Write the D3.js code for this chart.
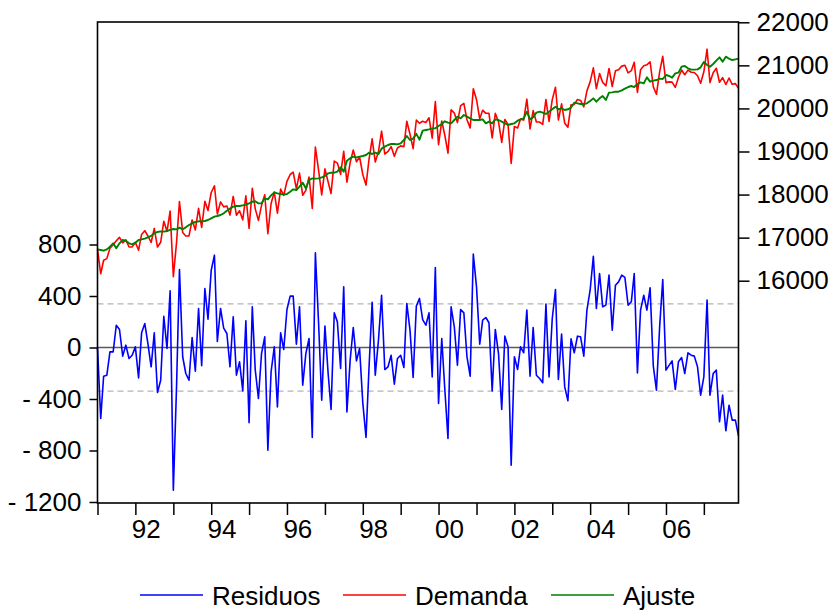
<!DOCTYPE html>
<html>
<head>
<meta charset="utf-8">
<script src="https://cdn.jsdelivr.net/npm/d3@7"></script>
<style>
  html, body { margin: 0; padding: 0; background: #fff; }
  svg { display: block; }
  text { font-family: "Liberation Sans", Arial, sans-serif; fill: #000; white-space: pre; }
</style>
</head>
<body>
<svg id="chart" width="837" height="611"></svg>
<script>
// ---- Data (monthly, 1991M01 - 2007M12) ----
const startYear = 1991;
const startMonth = 0;

const residuos = [
  0, -551, -223, -215, -34, -34, 173, 140, -67, 18, -85, -60, 5, -236, 114, 186, 31, -150, 114, -350,
  -254, 243, -8, 440, -1108, -300, 606, -72, -202, -254, 78, -184, 303, -142, 458, 220, 600, 717, 47, 303,
  150, 109, -150, 238, -215, -111, -337, 207, -585, 316, -171, -396, -47, 83, -797, -189, 5, -461, 114, -16,
  295, 399, 399, 26, 316, -293, -47, 70, -699, 735, 186, -409, 166, -202, -482, 269, 199, -163, 471, -500,
  -100, 155, -104, -8, -430, -699, -173, 352, -215, 57, 406, -171, -150, -60, -285, -85, -60, -155, 342, 135,
  -233, 321, 381, 217, 173, 269, -228, 621, -435, 70, -318, -707, 316, 160, -137, 295, 269, -72, -223, 725,
  471, 26, 212, 233, 192, -337, 140, -47, -482, 88, 5, -914, -72, -171, 5, -41, 290, -223, 155, -215,
  -241, -274, 337, -228, 225, 450, -249, 104, -306, -414, 67, -41, 88, 83, -67, 290, 445, 709, 303, 575,
  316, 329, 562, 135, 484, 510, 562, 544, 329, 355, 575, -197, 290, 406, 290, 463, -145, -331, 160, 528,
  -176, -137, -104, -326, -111, -78, -202, -41, -60, -67, -150, -370, -228, 368, -370, -202, -176, -577, -370, -647,
  -448, -564, -564, -686
];

const demanda = [
  16728, 16162, 16474, 16513, 16756, 16834, 16925, 17008, 16878, 16948, 16783, 16785, 16888, 16709, 17075, 17162, 17038, 16888, 17214, 16781,
  16892, 17382, 17146, 17618, 16093, 16893, 17838, 17121, 17037, 17040, 17410, 17179, 17682, 17237, 17844, 17630, 18048, 18204, 17549, 17829,
  17714, 17735, 17523, 17957, 17520, 17624, 17413, 17973, 17212, 18148, 17674, 17400, 17749, 17996, 17092, 17793, 18057, 17568, 18127, 17982,
  18308, 18466, 18520, 18132, 18499, 17983, 18098, 18408, 17678, 19104, 18563, 17991, 18597, 18291, 18026, 18777, 18731, 18469, 19003, 18287,
  18741, 19035, 18761, 18872, 18466, 18220, 18800, 19294, 18758, 18999, 19472, 18941, 19001, 19114, 18889, 19081, 19130, 19112, 19702, 19402,
  19067, 19731, 19656, 19701, 19673, 19784, 19310, 20159, 19158, 19709, 19383, 18963, 19970, 19892, 19672, 20066, 20117, 19737, 19548, 20457,
  20203, 19758, 19959, 19887, 19885, 19317, 19887, 19685, 19211, 19742, 19621, 18725, 19582, 19545, 19752, 19730, 20215, 19524, 19949, 19687,
  19684, 19628, 20208, 19697, 20205, 20491, 19731, 20107, 19658, 19566, 20087, 20093, 20206, 20186, 20036, 20408, 20617, 20943, 20460, 20809,
  20604, 20525, 20928, 20509, 20873, 20899, 20982, 21003, 20826, 20876, 21072, 20370, 20896, 20989, 21012, 21084, 20500, 20329, 20851, 21211,
  20600, 20616, 20610, 20489, 20719, 20892, 20783, 20890, 20840, 20833, 20758, 20584, 20850, 21376, 20600, 20830, 20933, 20609, 20716, 20555,
  20707, 20560, 20576, 20469
];

const ajuste = [
  16728, 16713, 16697, 16728, 16790, 16868, 16752, 16868, 16945, 16930, 16868, 16845, 16883, 16945, 16961, 16976, 17007, 17038, 17100, 17131,
  17146, 17139, 17154, 17178, 17201, 17193, 17232, 17193, 17239, 17294, 17332, 17363, 17379, 17379, 17386, 17410, 17448, 17487, 17502, 17526,
  17564, 17626, 17673, 17719, 17735, 17735, 17750, 17766, 17797, 17832, 17845, 17796, 17796, 17913, 17889, 17982, 18052, 18029, 18013, 17998,
  18013, 18067, 18121, 18106, 18183, 18276, 18145, 18338, 18377, 18369, 18377, 18400, 18431, 18493, 18508, 18508, 18532, 18632, 18532, 18787,
  18841, 18880, 18865, 18880, 18896, 18919, 18973, 18942, 18973, 18942, 19066, 19112, 19151, 19174, 19174, 19166, 19190, 19267, 19360, 19267,
  19300, 19410, 19275, 19484, 19500, 19515, 19538, 19538, 19593, 19639, 19701, 19670, 19654, 19732, 19809, 19771, 19848, 19809, 19771, 19732,
  19732, 19732, 19747, 19654, 19693, 19654, 19747, 19732, 19693, 19654, 19616, 19639, 19654, 19716, 19747, 19771, 19925, 19747, 19794, 19902,
  19925, 19902, 19871, 19925, 19980, 20041, 19980, 20003, 19964, 19980, 20020, 20134, 20118, 20103, 20103, 20118, 20172, 20234, 20157, 20234,
  20288, 20196, 20366, 20374, 20389, 20389, 20420, 20459, 20497, 20521, 20497, 20567, 20606, 20583, 20722, 20621, 20645, 20660, 20691, 20683,
  20776, 20753, 20714, 20815, 20830, 20970, 20985, 20931, 20900, 20900, 20908, 20954, 21078, 21008, 20970, 21032, 21109, 21186, 21086, 21202,
  21155, 21124, 21140, 21155
];

const seResid = 339;                       // +/- 1 S.E. band of residuals
const leftTicks = [-1200, -800, -400, 0, 400, 800];
const leftTickLabels = ["- 1200", "- 800", "- 400", "0", "400", "800"];
const rightTicks = [16000, 17000, 18000, 19000, 20000, 21000, 22000];
const yearTicks = d3.range(1991, 2008);
const yearLabels = ["92", "94", "96", "98", "00", "02", "04", "06"];
const labelYears = [1992, 1994, 1996, 1998, 2000, 2002, 2004, 2006];
const legendNames = ["Residuos", "Demanda", "Ajuste"];
const legendColors = ["#0000ff", "#ff0000", "#008000"];

// ---- Layout ----
const svg = d3.select("#chart");
const X0 = 97.5, X1 = 738.5, Y0 = 22, Y1 = 503;
const FS = 26;

const dates = residuos.map((_, i) => new Date(startYear, startMonth + i, 1));
const x = d3.scaleTime()
  .domain([dates[0], dates[dates.length - 1]])
  .range([X0, X1]);
const yL = d3.scaleLinear().domain([-1200, 800]).range([502, 244.5]);
const yR = d3.scaleLinear().domain([16000, 22000]).range([280.7, 22.3]);

// reference lines
const g = svg.append("g");
g.selectAll("line.se").data([seResid, -seResid]).enter().append("line")
  .attr("x1", X0).attr("x2", X1)
  .attr("y1", d => yL(d)).attr("y2", d => yL(d))
  .attr("stroke", "#b4b4b4").attr("stroke-width", 1.2)
  .attr("stroke-dasharray", "6,4");
g.append("line")
  .attr("x1", X0).attr("x2", X1)
  .attr("y1", yL(0)).attr("y2", yL(0))
  .attr("stroke", "#5a5a5a").attr("stroke-width", 1.3);

// series
const lineL = d3.line().x((d, i) => x(dates[i])).y(d => yL(d));
const lineR = d3.line().x((d, i) => x(dates[i])).y(d => yR(d));

svg.append("path").datum(residuos).attr("d", lineL)
  .attr("fill", "none").attr("stroke", legendColors[0]).attr("stroke-width", 1.6)
  .attr("stroke-linejoin", "round");
svg.append("path").datum(demanda).attr("d", lineR)
  .attr("fill", "none").attr("stroke", legendColors[1]).attr("stroke-width", 1.6)
  .attr("stroke-linejoin", "round");
svg.append("path").datum(ajuste).attr("d", lineR)
  .attr("fill", "none").attr("stroke", legendColors[2]).attr("stroke-width", 1.9)
  .attr("stroke-linejoin", "round");

// frame
svg.append("rect")
  .attr("x", X0).attr("y", Y0).attr("width", X1 - X0).attr("height", Y1 - Y0)
  .attr("fill", "none").attr("stroke", "#000").attr("stroke-width", 1.6);

// left axis (residuals)
const axL = d3.axisLeft(yL).tickValues(leftTicks).tickSize(8).tickPadding(8)
  .tickFormat((d, i) => leftTickLabels[i]);
const gL = svg.append("g").attr("transform", `translate(${X0},0)`).call(axL);
gL.select(".domain").remove();
gL.selectAll(".tick line").attr("stroke", "#000").attr("stroke-width", 1.5);
gL.selectAll(".tick text").attr("font-size", FS).attr("font-family", "Liberation Sans, Arial, sans-serif")
  .attr("dy", "0.32em").attr("fill", "#000");

// right axis
const axR = d3.axisRight(yR).tickValues(rightTicks).tickSize(11).tickPadding(7)
  .tickFormat(d3.format("d"));
const gR = svg.append("g").attr("transform", `translate(${X1},0)`).call(axR);
gR.select(".domain").remove();
gR.selectAll(".tick line").attr("stroke", "#000").attr("stroke-width", 1.5);
gR.selectAll(".tick text").attr("font-size", FS).attr("font-family", "Liberation Sans, Arial, sans-serif")
  .attr("dy", "0.3em").attr("fill", "#000");

// bottom axis: year ticks
const axB = d3.axisBottom(x)
  .tickValues(yearTicks.map(yv => new Date(yv, 0, 1)))
  .tickSize(12).tickFormat("");
const gB = svg.append("g").attr("transform", `translate(0,${Y1})`).call(axB);
gB.select(".domain").remove();
gB.selectAll(".tick line").attr("stroke", "#000").attr("stroke-width", 1.5);

// year labels
svg.append("g").selectAll("text").data(labelYears).enter().append("text")
  .attr("x", d => x(new Date(d, 3, 15)))
  .attr("y", 538)
  .attr("text-anchor", "middle")
  .attr("font-size", FS)
  .text((d, i) => yearLabels[i]);

// legend
const legendX = [140, 343, 551];
const leg = svg.append("g");
legendNames.forEach((name, i) => {
  leg.append("line")
    .attr("x1", legendX[i]).attr("x2", legendX[i] + 63)
    .attr("y1", 595).attr("y2", 595)
    .attr("stroke", legendColors[i]).attr("stroke-width", 1.6);
  leg.append("text")
    .attr("x", legendX[i] + 72).attr("y", 605)
    .attr("font-size", FS)
    .text(name);
});
</script>
</body>
</html>
